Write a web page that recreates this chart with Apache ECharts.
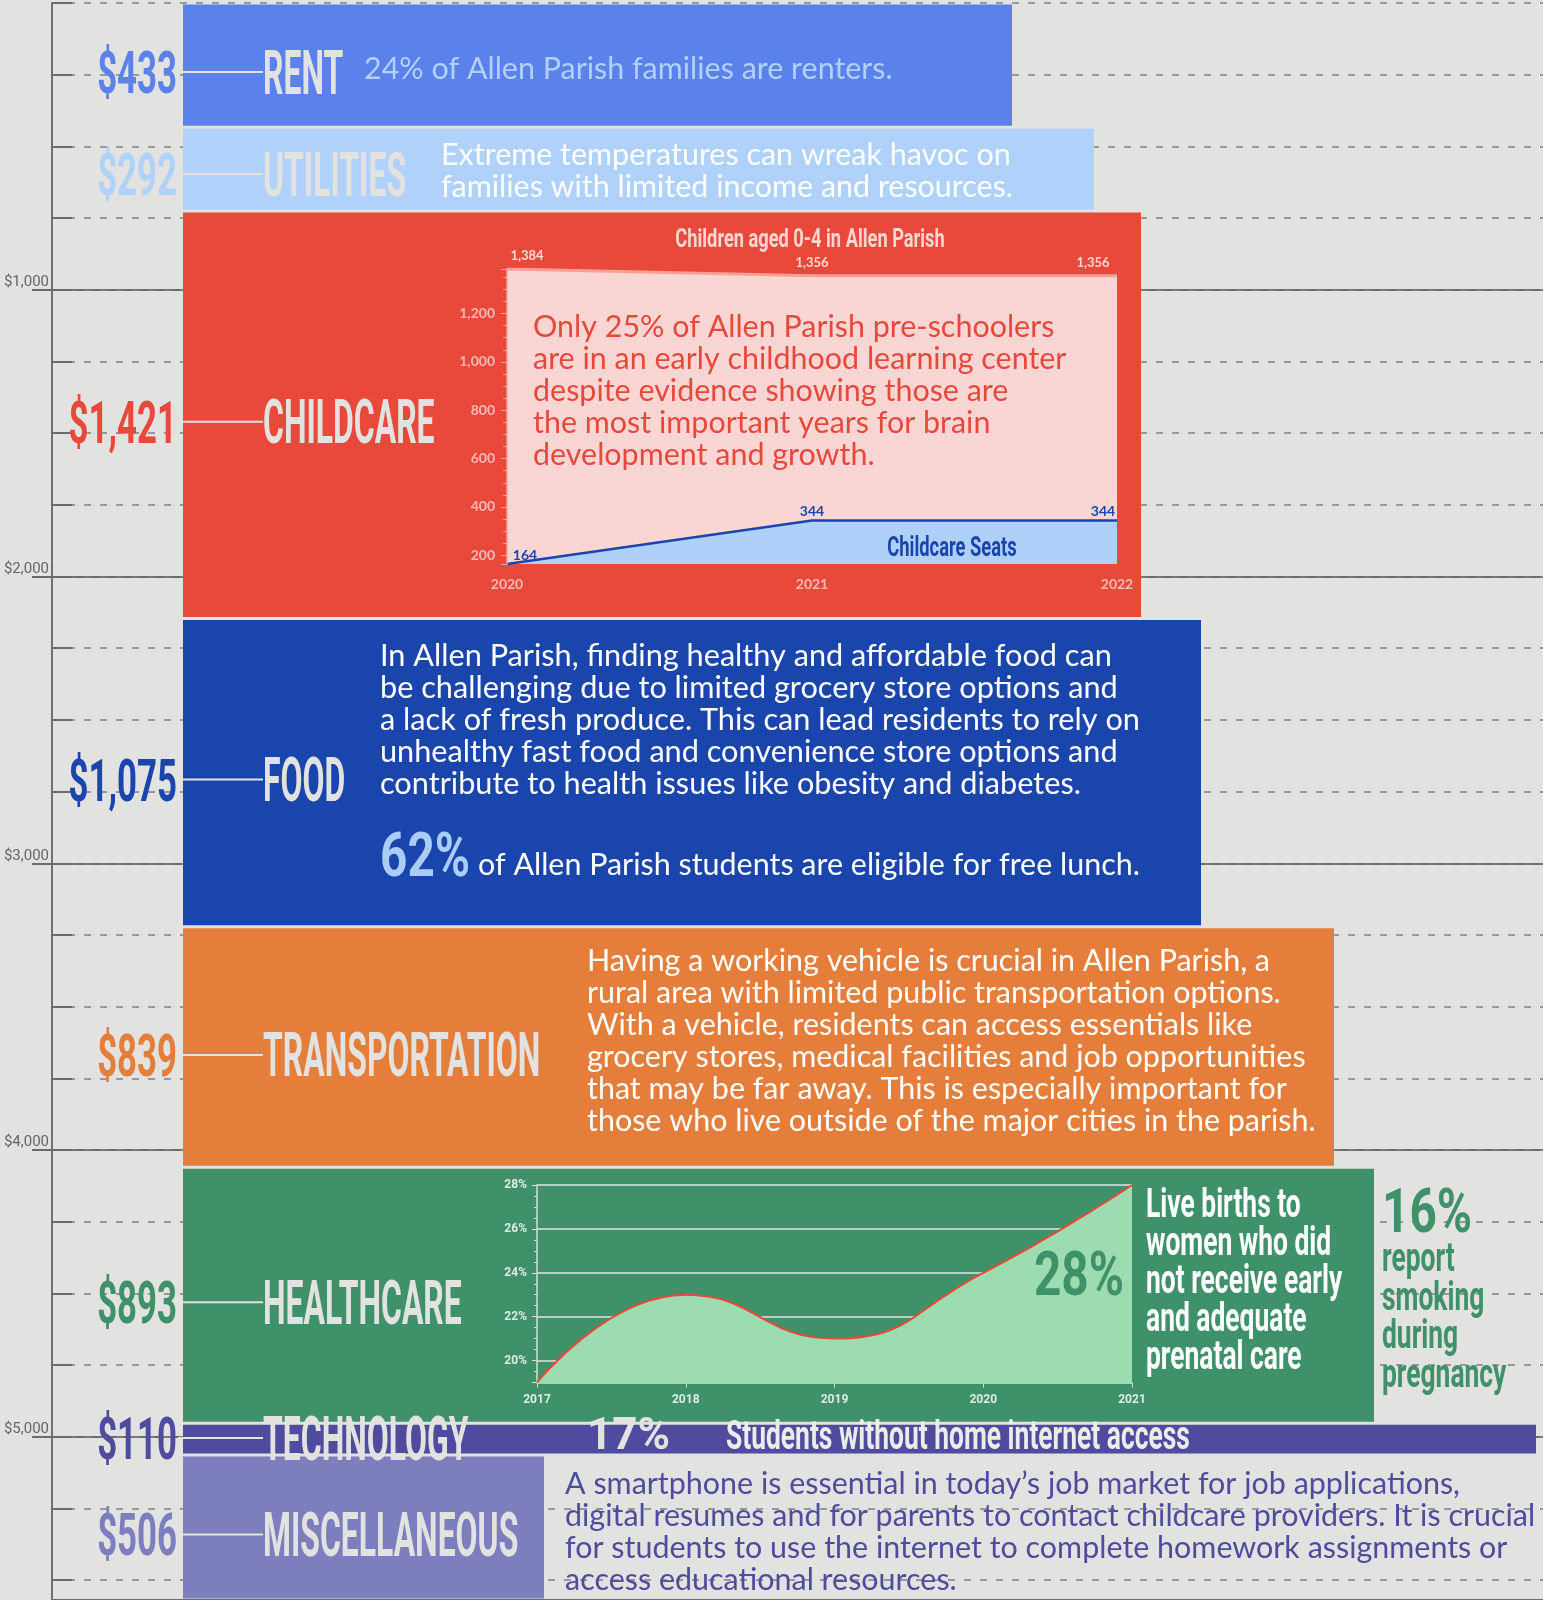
<!DOCTYPE html>
<html>
<head>
<meta charset="utf-8">
<script src="https://cdn.jsdelivr.net/npm/echarts@6/dist/echarts.min.js"></script>
<style>
  html, body { margin: 0; padding: 0; background: #e2e2e0; }
  #main { width: 1543px; height: 1600px; }
</style>
</head>
<body>
<div id="main"></div>
<script>
// ---- data ----
var categories = ['RENT', 'UTILITIES', 'CHILDCARE', 'FOOD', 'TRANSPORTATION', 'HEALTHCARE', 'TECHNOLOGY', 'MISCELLANEOUS'];
var monthlyCost = [433, 292, 1421, 1075, 839, 893, 110, 506];

var childYears = ['2020', '2021', '2022'];
var childrenAged0to4 = [1384, 1356, 1356];
var childcareSeats = [164, 344, 344];

var birthYears = ['2017', '2018', '2019', '2020', '2021'];
var noPrenatalCare = [19, 23, 21, 24, 28];

// ---- layout / style ----
var barColors = ['#5b82ea', '#b0d2fa', '#e9493a', '#1a45ad', '#e57e3b', '#3f916a', '#4f4b9f', '#7c7ebe'];
var barRight = [1012, 1094, 1141, 1201, 1334, 1374, 1536, 544];
var labelDrop = [13, 11, 13, 13, 14, 13, 5, 13];
var barLeft = 183;
var BG = '#e2e2e0';
var COND = 'Roboto, "Liberation Sans", sans-serif';
var BODY = 'Lato, "Open Sans", sans-serif';
var childLabelOffset = [[20, 0], [0, 0], [-24, 0]];
var seatLabelOffset = [[18, 0], [0, 0], [-14, 0]];

var total = monthlyCost.reduce(function (a, b) { return a + b; }, 0);
var bands = [];
var acc = 0;
monthlyCost.forEach(function (v, i) {
  bands.push([acc, acc + v, i]);
  acc += v;
});

function renderBand(params, api) {
  var i = api.value(2);
  var p0 = api.coord([barLeft, api.value(0)]);
  var p1 = api.coord([barRight[i], api.value(1)]);
  return {
    type: 'rect',
    shape: { x: p0[0], y: p0[1] + 1.5, width: p1[0] - p0[0], height: p1[1] - p0[1] - 3 },
    style: { fill: barColors[i] }
  };
}

function renderBandLabel(params, api) {
  var i = api.value(2);
  var p0 = api.coord([barLeft, api.value(0)]);
  var p1 = api.coord([barLeft, api.value(1)]);
  var cy = (p0[1] + p1[1]) / 2 + labelDrop[i];
  return {
    type: 'group',
    children: [
      { type: 'line', shape: { x1: 178, y1: cy - 6, x2: 263, y2: cy - 6 }, style: { stroke: BG, lineWidth: 2 } },
      { type: 'text', x: 177, y: cy, scaleX: 0.58,
        style: { text: '$' + monthlyCost[i].toLocaleString('en-US'), fill: barColors[i], fontFamily: COND, fontWeight: 'bold',
                 fontSize: 60, align: 'right', verticalAlign: 'middle' } },
      { type: 'text', x: 263, y: cy, scaleX: 0.515,
        style: { text: categories[i], fill: BG, fontFamily: COND, fontWeight: 'bold',
                 fontSize: 62, align: 'left', verticalAlign: 'middle' } }
    ]
  };
}

function txt(x, y, text, o) {
  return {
    type: 'text', x: x, y: y, scaleX: o.sx || 1, z: 100,
    style: {
      text: text, fill: o.color, fontFamily: o.family || BODY, fontSize: o.size || 30,
      fontWeight: o.weight || 'normal', lineHeight: o.lh || 32,
      align: o.align || 'left', verticalAlign: o.va || 'middle'
    }
  };
}

var B = 1.015;
var notes = [
  txt(364, 69, '24% of Allen Parish families are renters.', { color: '#b3d0fa', sx: B }),
  txt(441, 139, 'Extreme temperatures can wreak havoc on\nfamilies with limited income and resources.', { color: '#ffffff', va: 'top', sx: B }),
  txt(810, 241, 'Children aged 0-4 in Allen Parish', { color: '#fbd6d1', family: COND, weight: 'bold', size: 25, sx: 0.73, align: 'center' }),
  txt(533, 311, 'Only 25% of Allen Parish pre-schoolers\nare in an early childhood learning center\ndespite evidence showing those are\nthe most important years for brain\ndevelopment and growth.', { color: '#e8483a', va: 'top', sx: B }),
  txt(952, 549, 'Childcare Seats', { color: '#1a45ad', family: COND, weight: 'bold', size: 27, sx: 0.68, align: 'center' }),
  txt(380, 640, 'In Allen Parish, finding healthy and affordable food can\nbe challenging due to limited grocery store options and\na lack of fresh produce. This can lead residents to rely on\nunhealthy fast food and convenience store options and\ncontribute to health issues like obesity and diabetes.', { color: '#ffffff', va: 'top', sx: 1.022 }),
  txt(380, 860, '62%', { color: '#a9cdf7', family: COND, weight: 'bold', size: 62, sx: 0.77 }),
  txt(478, 865, 'of Allen Parish students are eligible for free lunch.', { color: '#ffffff', sx: B }),
  txt(587, 945, 'Having a working vehicle is crucial in Allen Parish, a\nrural area with limited public transportation options.\nWith a vehicle, residents can access essentials like\ngrocery stores, medical facilities and job opportunities\nthat may be far away. This is especially important for\nthose who live outside of the major cities in the parish.', { color: '#ffffff', va: 'top', sx: B }),
  txt(1124, 1279, '28%', { color: '#3f916a', family: COND, weight: 'bold', size: 62, sx: 0.77, align: 'right' }),
  txt(1146, 1188, 'Live births to\nwomen who did\nnot receive early\nand adequate\nprenatal care', { color: '#ffffff', family: COND, weight: 'bold', size: 40, sx: 0.66, lh: 38, va: 'top' }),
  txt(1382, 1216, '16%', { color: '#3f916a', family: COND, weight: 'bold', size: 62, sx: 0.77 }),
  txt(1382, 1242, 'report\nsmoking\nduring\npregnancy', { color: '#3f916a', family: COND, weight: 'bold', size: 40, sx: 0.66, lh: 38.5, va: 'top' }),
  txt(587, 1438, '17%', { color: BG, family: COND, weight: 'bold', size: 44, sx: 1.0 }),
  txt(726, 1439, 'Students without home internet access', { color: '#ececec', family: COND, weight: 'bold', size: 40, sx: 0.66 }),
  txt(565, 1468, 'A smartphone is essential in today\u2019s job market for job applications,\ndigital resumes and for parents to contact childcare providers. It is crucial\nfor students to use the internet to complete homework assignments or\naccess educational resources.', { color: '#4f4b9f', va: 'top', sx: B })
];

var chart = echarts.init(document.getElementById('main'), null, { renderer: 'canvas' });
chart.setOption({
  backgroundColor: BG,
  animation: false,
  grid: [
    { left: 52, right: 0, top: 3, bottom: 0, outerBoundsMode: 'none', containLabel: false },
    { left: 507, width: 610, top: 269, height: 295, outerBoundsMode: 'none', containLabel: false },
    { left: 537, width: 595, top: 1185, height: 197.5, outerBoundsMode: 'none', containLabel: false },
    { left: 52, right: 0, top: 3, bottom: 0, outerBoundsMode: 'none', containLabel: false }
  ],
  xAxis: [
    { gridIndex: 0, type: 'value', min: 52, max: 1543, show: false },
    { gridIndex: 1, type: 'category', data: childYears, boundaryGap: false, z: 10,
      axisLine: { show: false }, axisTick: { show: false },
      axisLabel: { color: '#f4bab3', fontFamily: BODY, fontWeight: 'bold', fontSize: 14, margin: 13 } },
    { gridIndex: 2, type: 'category', data: birthYears, boundaryGap: false, z: 3,
      axisLine: { lineStyle: { color: '#cfe3d6', width: 1.5 } },
      axisTick: { show: true, length: 5, lineStyle: { color: '#cfe3d6' } },
      axisLabel: { color: '#dcece2', fontFamily: COND, fontWeight: 'bold', fontSize: 12, margin: 11 } },
    { gridIndex: 3, type: 'value', min: 52, max: 1543, show: false }
  ],
  yAxis: [
    { gridIndex: 0, type: 'value', inverse: true, min: 0, max: total, interval: 1000,
      axisLine: { show: true, lineStyle: { color: '#707070', width: 2 } },
      axisTick: { show: true, inside: false, length: 20, lineStyle: { color: '#6b6b6b', width: 2 } },
      axisLabel: { color: '#666666', fontFamily: COND, fontSize: 15, verticalAlign: 'bottom', margin: 3,
                   showMinLabel: false, showMaxLabel: false,
                   formatter: function (v) { return '$' + v.toLocaleString('en-US'); } },
      splitLine: { show: true, showMinLine: false, lineStyle: { color: '#6b6b6b', width: 2 } } },
    { gridIndex: 1, type: 'value', min: 164, max: 1384, z: 10,
      axisLine: { show: true, lineStyle: { color: '#f2a69d', width: 1.5 } },
      axisTick: { show: true, length: 6, lineStyle: { color: '#f2a69d' } },
      minorTick: { show: true, splitNumber: 4, length: 4, lineStyle: { color: '#f2a69d' } },
      splitLine: { show: false },
      axisLabel: { color: '#f4bab3', fontFamily: BODY, fontWeight: 'bold', fontSize: 14, margin: 12,
                   showMinLabel: false, showMaxLabel: false,
                   formatter: function (v) { return v.toLocaleString('en-US'); } } },
    { gridIndex: 2, type: 'value', min: 19, max: 28, z: 3,
      axisLine: { show: true, lineStyle: { color: '#cfe3d6', width: 1.5 } },
      axisTick: { show: true, length: 5, lineStyle: { color: '#cfe3d6' } },
      minorTick: { show: true, splitNumber: 4, length: 3, lineStyle: { color: '#cfe3d6' } },
      splitLine: { show: true, showMinLine: false, lineStyle: { color: '#c3cbc6', width: 2 } },
      axisLabel: { color: '#dcece2', fontFamily: COND, fontWeight: 'bold', fontSize: 12, margin: 10,
                   showMinLabel: false, formatter: '{value}%' } },
    { gridIndex: 3, type: 'value', inverse: true, min: 0, max: total, interval: 250,
      axisLine: { show: false },
      axisTick: { show: true, inside: true, length: 20, lineStyle: { color: '#6b6b6b', width: 2 } },
      axisLabel: { show: false },
      splitLine: { show: true, showMaxLine: false, lineStyle: { color: '#808080', width: 1.5, type: [7, 9] } } }
  ],
  series: [
    { type: 'custom', xAxisIndex: 0, yAxisIndex: 0, z: 2, silent: true,
      data: bands, encode: { y: [0, 1] }, renderItem: renderBand },
    { type: 'custom', xAxisIndex: 0, yAxisIndex: 0, z: 6, silent: true,
      data: bands, encode: { y: [0, 1] }, renderItem: renderBandLabel },
    { type: 'line', xAxisIndex: 1, yAxisIndex: 1, z: 4, silent: true,
      data: childrenAged0to4.map(function (v, i) { return { value: v, label: { offset: childLabelOffset[i] } }; }),
      symbol: 'circle', symbolSize: 1, itemStyle: { color: 'rgba(0,0,0,0)' },
      lineStyle: { color: '#f6a197', width: 3 },
      areaStyle: { color: '#f9d6d3', opacity: 1, origin: 'start' },
      label: { show: true, position: 'top', distance: 6, color: '#fbd9d5', fontFamily: BODY, fontWeight: 'bold', fontSize: 13,
               formatter: function (p) { return p.value.toLocaleString('en-US'); } } },
    { type: 'line', xAxisIndex: 1, yAxisIndex: 1, z: 5, silent: true,
      data: childcareSeats.map(function (v, i) { return { value: v, label: { offset: seatLabelOffset[i] } }; }),
      symbol: 'circle', symbolSize: 1, itemStyle: { color: 'rgba(0,0,0,0)' },
      lineStyle: { color: '#1a45ad', width: 2.5 },
      areaStyle: { color: '#afd0f8', opacity: 1, origin: 'start' },
      label: { show: true, position: 'top', distance: 1, color: '#1a45ad', fontFamily: BODY, fontWeight: 'bold', fontSize: 14 } },
    { type: 'line', xAxisIndex: 2, yAxisIndex: 2, z: 4, silent: true,
      data: noPrenatalCare, smooth: true, symbol: 'none',
      lineStyle: { color: '#e8493a', width: 2 },
      areaStyle: { color: '#9ddcb1', opacity: 1, origin: 'start' } }
  ],
  graphic: notes
});
</script>
</body>
</html>
